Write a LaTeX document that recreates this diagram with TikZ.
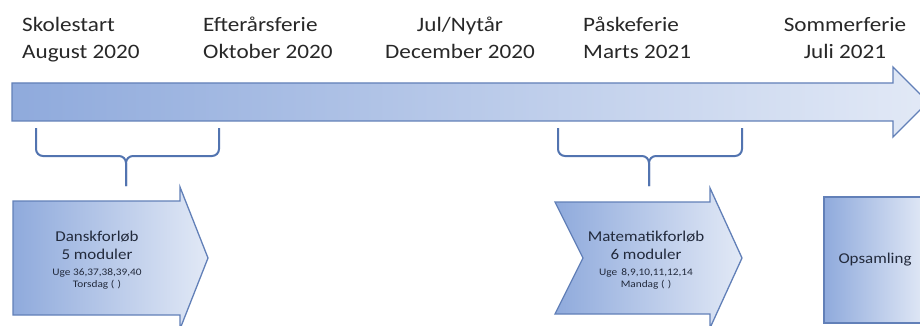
\documentclass[tikz,border=0pt]{standalone}
\usepackage{fontspec}
\setmainfont{Carlito}[FakeStretch=1.13]
\definecolor{shadeL}{RGB}{143,170,220}
\definecolor{shadeR}{RGB}{226,233,246}
\definecolor{edge}{RGB}{98,128,184}
\definecolor{bracecol}{RGB}{82,116,176}
\definecolor{lbl}{RGB}{40,40,40}
\definecolor{inner}{RGB}{34,42,60}
\begin{document}
\begin{tikzpicture}[x=1pt,y=-1pt,
  shapefill/.style={left color=shadeL, right color=shadeR, draw=edge, line width=1.3pt, line join=miter},
  bracestyle/.style={draw=bracecol, line width=2pt, rounded corners=7pt},
  toplabel/.style={font=\fontsize{20.5}{27}\selectfont, text=lbl, inner sep=0pt},
  boxtext/.style={font=\fontsize{15}{18}\selectfont, text=inner, align=center, inner sep=0pt}]
\useasboundingbox (0,0) rectangle (920,326);
\clip (0,0) rectangle (920,326);
\fill[white] (0,0) rectangle (920,326);

% main timeline arrow
\path[shapefill] (12,83) -- (893,83) -- (893,67) -- (928,102) -- (893,137) -- (893,121) -- (12,121) -- cycle;

% top labels (base anchor = baseline of last line)
\node[toplabel, anchor=base west, align=left] (skole) at (22,59) {Skolestart\\August 2020};
\node[toplabel, anchor=base west, align=left] (efter) at (203,59) {Efterårsferie\\Oktober 2020};
\node[toplabel, anchor=base, align=center] (jul) at (460,59) {Jul/Nytår\\December 2020};
\node[toplabel, anchor=base west, align=left] (paske) at (583,59) {Påskeferie\\Marts 2021};
\node[toplabel, anchor=base, align=center] (sommer) at (845,59) {Sommerferie\\Juli 2021};

% braces
\path[bracestyle] (36,128) -- (36,156) -- (126,156) -- (126,186);
\path[bracestyle] (219,128) -- (219,156) -- (126,156) -- (126,186);
\path[bracestyle] (558,128) -- (558,156) -- (649,156) -- (649,186);
\path[bracestyle] (742,128) -- (742,156) -- (649,156) -- (649,186);

% Dansk arrow
\path[shapefill] (13,201) -- (180,201) -- (180,187) -- (208,258) -- (180,329) -- (180,315) -- (13,315) -- cycle;
\node[boxtext, anchor=base] (dansk) at (97,287) {Danskforløb\\5 moduler\\[-2pt]{\fontsize{10}{11}\selectfont Uge 36,37,38,39,40}\\[-6pt]{\fontsize{10}{11}\selectfont Torsdag (\,\,)}};

% Matematik chevron
\path[shapefill] (555,202) -- (710,202) -- (710,188) -- (742,258) -- (710,328) -- (710,314) -- (555,314) -- (583,258) -- cycle;
\node[boxtext, anchor=base] (mat) at (646,287) {Matematikforløb\\6 moduler\\[-2pt]{\fontsize{10}{11}\selectfont Uge\, 8,9,10,11,12,14}\\[-6pt]{\fontsize{10}{11}\selectfont Mandag (\,\,)}};

% Opsamling box
\node[shapefill, boxtext, minimum width=102pt, minimum height=126pt] (ops) at (875,260) {Opsamling};
\end{tikzpicture}
\end{document}
